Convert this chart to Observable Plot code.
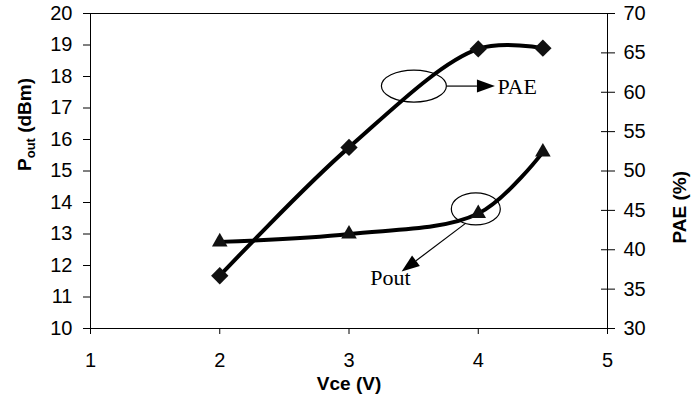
<!DOCTYPE html>
<html><head><meta charset="utf-8">
<script src="https://cdn.jsdelivr.net/npm/d3@7"></script>
<script src="https://cdn.jsdelivr.net/npm/@observablehq/plot@0.6"></script>
<style>body{margin:0;background:#fff} svg{display:block}</style>
</head><body><div id="chart"></div>
<script>
// ---- data ----
const vce = [2, 3, 4, 4.5];
const pout = [12.75, 13.0, 13.65, 15.6];      // dBm (left axis)
const pae = [36.7, 53.0, 65.5, 65.6];         // % (right axis)
const xTicks = [1, 2, 3, 4, 5];
const leftTicks = [10, 11, 12, 13, 14, 15, 16, 17, 18, 19, 20];
const rightTicks = [30, 35, 40, 45, 50, 55, 60, 65, 70];
// annotations (in data units: Vce, Pout)
const annLabels = ["PAE", "Pout"];
const annLabelX = [4.148, 3.165];
const annLabelY = [17.68, 11.6];
const ellipseX = [3.506, 3.985];
const ellipseY = [17.68, 13.78];
const arrowFrom = [[3.761, 17.68], [3.908, 13.33]];
const arrowTo = [[4.133, 17.68], [3.411, 11.79]];

// map PAE onto left-axis units (30..70 -> 10..20)
const paeToY = p => 10 + (p - 30) / 4;
const yToPae = y => 30 + (y - 10) * 4;

const poutData = vce.map((v, i) => ({vce: v, val: pout[i]}));
const paeData = vce.map((v, i) => ({vce: v, val: paeToY(pae[i])}));
const rightTickPos = rightTicks.map(paeToY);
const labelData = annLabels.map((t, i) => ({t, x: annLabelX[i], y: annLabelY[i]}));

const svg = Plot.plot({
  width: 700, height: 406,
  marginLeft: 90, marginRight: 93, marginTop: 13, marginBottom: 78,
  style: {fontFamily: "'Liberation Sans', Arial, sans-serif", fontSize: "20px", color: "#000", background: "#fff"},
  x: {domain: [1, 5]},
  y: {domain: [10, 20]},
  marks: [
    Plot.frame({stroke: "#000", strokeWidth: 1}),
    Plot.axisX(xTicks, {tickSize: 6, tickPadding: 18, label: null, tickFormat: d => String(d)}),
    Plot.axisY(leftTicks, {anchor: "left", tickSize: 7, tickPadding: 11, label: null, tickFormat: d => String(d)}),
    Plot.axisY(rightTickPos, {anchor: "right", tickSize: 14, dx: -7, tickPadding: 9, label: null, tickFormat: d => String(Math.round(yToPae(d)))}),
    Plot.line(paeData, {x: "vce", y: "val", curve: "catmull-rom", stroke: "#000", strokeWidth: 4}),
    Plot.line(poutData, {x: "vce", y: "val", curve: "catmull-rom", stroke: "#000", strokeWidth: 4}),
    Plot.dot(paeData, {x: "vce", y: "val", symbol: "diamond2", r: 7.8, fill: "#111", stroke: "none"}),
    Plot.dot(poutData, {x: "vce", y: "val", symbol: "triangle", r: 5.8, fill: "#111", stroke: "none"}),
    Plot.text(labelData, {x: "x", y: "y", text: "t", textAnchor: "start", fontFamily: "'Liberation Serif', 'Times New Roman', serif", fontSize: 22}),
    Plot.text(["Vce (V)"], {frameAnchor: "bottom", dy: 61, fontWeight: "bold", fontSize: 19}),
    Plot.text(["PAE (%)"], {frameAnchor: "right", dx: 72, rotate: -90, fontWeight: "bold", fontSize: 19}),
    Plot.text(["Pout (dBm)"], {frameAnchor: "left", dx: -66, rotate: -90, fontWeight: "bold", fontSize: 19})
  ]
});

// subscript for P_out
d3.select(svg).selectAll("text").filter(function() { return this.textContent === "Pout (dBm)"; })
  .each(function() {
    const t = d3.select(this);
    t.text(null);
    t.append("tspan").text("P");
    t.append("tspan").attr("font-size", 13).attr("dy", 4).text("out");
    t.append("tspan").attr("dy", -4).text(" (dBm)");
  });

// ellipses and arrows positioned through the plot's scales
const sx = svg.scale("x"), sy = svg.scale("y");
const g = d3.select(svg).append("g").attr("fill", "none").attr("stroke", "#000").attr("stroke-width", 1.2);
ellipseX.forEach((ex, i) => {
  g.append("ellipse").attr("cx", sx.apply(ex)).attr("cy", sy.apply(ellipseY[i]))
    .attr("rx", i === 0 ? 32.5 : 24.5).attr("ry", 16);
});
arrowFrom.forEach((f, i) => {
  const x1 = sx.apply(f[0]), y1 = sy.apply(f[1]);
  const x2 = sx.apply(arrowTo[i][0]), y2 = sy.apply(arrowTo[i][1]);
  const dx = x2 - x1, dy = y2 - y1, len = Math.hypot(dx, dy);
  const ux = dx / len, uy = dy / len, hl = 18, hw = 6.5;
  const bx = x2 - ux * hl, by = y2 - uy * hl;
  g.append("line").attr("x1", x1).attr("y1", y1).attr("x2", bx).attr("y2", by);
  g.append("polygon").attr("fill", "#000").attr("stroke", "none")
    .attr("points", [[x2, y2], [bx - uy * hw, by + ux * hw], [bx + uy * hw, by - ux * hw]].map(p => p.join(",")).join(" "));
});

document.getElementById("chart").appendChild(svg);
</script>
</body></html>
